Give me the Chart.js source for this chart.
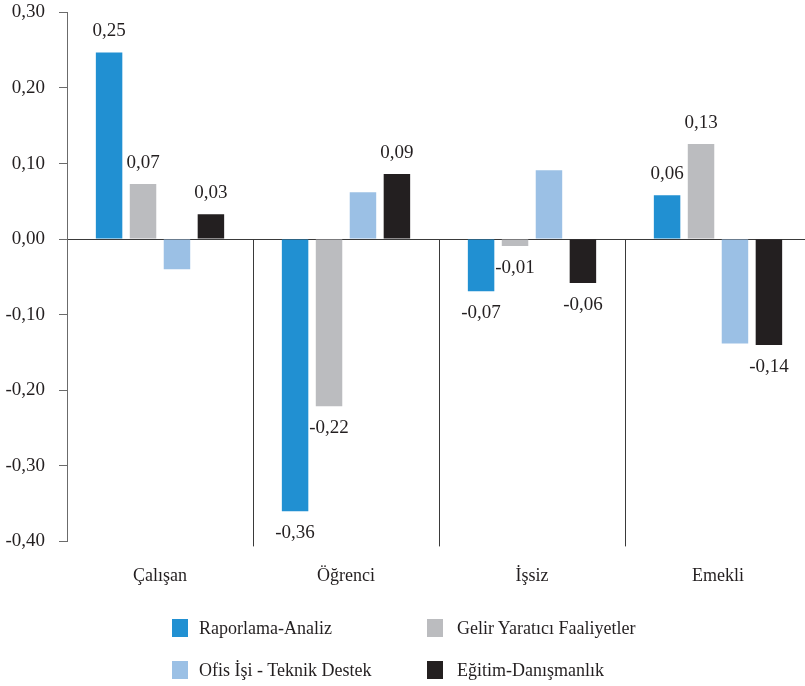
<!DOCTYPE html>
<html>
<head>
<meta charset="utf-8">
<script src="https://cdn.jsdelivr.net/npm/chart.js@4.4.1/dist/chart.umd.min.js"></script>
<style>
  html, body { margin: 0; padding: 0; background: #fff; overflow: hidden; width: 805px; height: 686px; }
  #wrap { position: absolute; left: 0; top: -13px; width: 812px; height: 624px; }
  #legend { position: absolute; left: 0; top: 0; width: 805px; height: 686px; pointer-events: none;
            font-family: "Liberation Serif", "DejaVu Serif", serif; font-size: 18px; color: #231f20; }
  .item { position: absolute; display: flex; align-items: center; height: 20px; }
  .sw { width: 16px; height: 18px; margin-right: 11px; }
</style>
</head>
<body>
<div id="wrap"><canvas id="c"></canvas></div>
<div id="legend"></div>
<script>
const categories = ["Çalışan", "Öğrenci", "İşsiz", "Emekli"];
const seriesNames = ["Raporlama-Analiz", "Gelir Yaratıcı Faaliyetler", "Ofis İşi - Teknik Destek", "Eğitim-Danışmanlık"];
const raporlama = [0.247, -0.360, -0.069, 0.058];
const gelir = [0.073, -0.221, -0.009, 0.126];
const ofis = [-0.040, 0.062, 0.091, -0.138];
const egitim = [0.033, 0.086, -0.058, -0.140];
const seriesColors = ["#2190d2", "#bbbcbf", "#9bc0e5", "#231f20"];
const showValueLabels = [true, true, false, true];
const yTicks = [0.30, 0.20, 0.10, 0.00, -0.10, -0.20, -0.30, -0.40];

const FONT = '"Liberation Serif", "DejaVu Serif", serif';
const fmt = v => v.toFixed(2).replace('.', ',');

const seriesValues = [raporlama, gelir, ofis, egitim];

const separators = {
  id: 'separators',
  beforeDatasetsDraw(chart) {
    const x = chart.scales.x, y = chart.scales.y, ctx = chart.ctx;
    const y0 = y.getPixelForValue(0);
    const step = x.getPixelForValue(1) - x.getPixelForValue(0);
    ctx.save();
    ctx.strokeStyle = '#3a3a3a';
    ctx.lineWidth = 1;
    for (let i = 1; i <= categories.length; i++) {
      const xp = Math.round(x.getPixelForValue(i - 1) + step / 2) + 0.5;
      ctx.beginPath();
      ctx.moveTo(xp, y0);
      ctx.lineTo(xp, chart.chartArea.bottom + 5);
      ctx.stroke();
    }
    ctx.restore();
  }
};

const valueLabels = {
  id: 'valueLabels',
  afterDatasetsDraw(chart) {
    const ctx = chart.ctx;
    ctx.save();
    ctx.font = '19px ' + FONT;
    ctx.fillStyle = '#231f20';
    ctx.textAlign = 'center';
    ctx.textBaseline = 'middle';
    chart.data.datasets.forEach((ds, di) => {
      if (!showValueLabels[di]) return;
      chart.getDatasetMeta(di).data.forEach((el, i) => {
        const v = ds.data[i];
        const yp = v >= 0 ? el.y - 21 : el.y + 22;
        ctx.fillText(fmt(v), el.x, yp);
      });
    });
    ctx.restore();
  }
};

new Chart(document.getElementById('c'), {
  type: 'bar',
  data: {
    labels: categories,
    datasets: seriesNames.map((n, i) => ({
      label: n,
      data: seriesValues[i],
      backgroundColor: seriesColors[i],
      borderWidth: 0,
      categoryPercentage: 0.73,
      barPercentage: 0.78
    }))
  },
  options: {
    responsive: true,
    maintainAspectRatio: false,
    animation: false,
    layout: { padding: { top: 0, right: 1, left: 0, bottom: 0 } },
    plugins: { legend: { display: false }, tooltip: { enabled: false } },
    scales: {
      x: {
        grid: { display: false, drawTicks: false },
        border: { display: false },
        ticks: { font: { family: FONT, size: 18 }, color: '#231f20', padding: 24 }
      },
      y: {
        min: -0.4, max: 0.3,
        afterFit(s) { s.width = 67; },
        afterBuildTicks(s) { s.ticks = yTicks.map(v => ({ value: v })); },
        grid: {
          drawOnChartArea: true,
          color: c => (c.tick && Math.abs(c.tick.value) < 1e-9) ? '#3a3a3a' : 'rgba(0,0,0,0)',
          tickColor: '#6b6b6b',
          tickLength: 8,
          lineWidth: 1
        },
        border: { display: true, color: '#6b6b6b', width: 1 },
        ticks: {
          font: { family: FONT, size: 19 }, color: '#231f20', padding: 14,
          callback: v => fmt(v)
        }
      }
    }
  },
  plugins: [separators, valueLabels]
});

// legend (HTML, real text)
const legendPos = [[172, 618], [427, 618], [172, 660], [427, 660]];
const lg = document.getElementById('legend');
seriesNames.forEach((n, i) => {
  const d = document.createElement('div');
  d.className = 'item';
  d.style.left = legendPos[i][0] + 'px';
  d.style.top = legendPos[i][1] + 'px';
  d.innerHTML = '<span class="sw" style="background:' + seriesColors[i] + '"></span><span></span>';
  d.lastChild.textContent = n;
  if (i % 2 === 1) d.firstChild.style.marginRight = '14px';
  lg.appendChild(d);
});
</script>
</body>
</html>
